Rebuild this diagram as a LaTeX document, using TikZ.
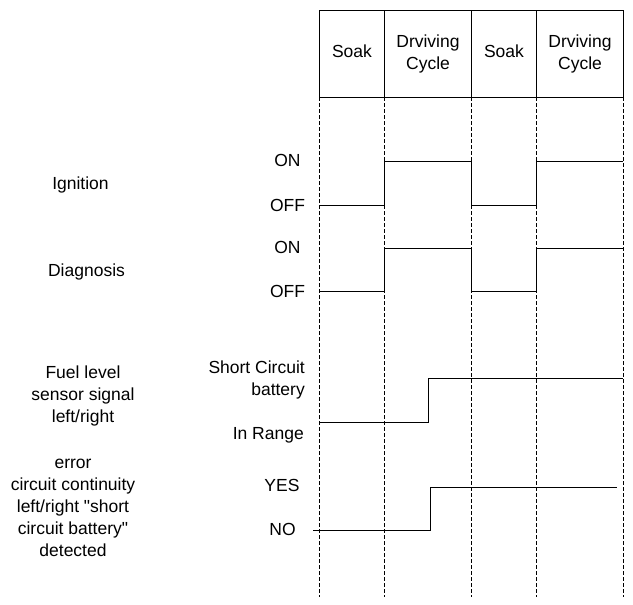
\documentclass[tikz,border=0pt]{standalone}
\usepackage{fontspec}
\setmainfont{Liberation Sans}[Ligatures=TeXOff]
\begin{document}
\begin{tikzpicture}[x=1pt, y=-1pt,
  caption/.style={inner sep=0pt, align=center, anchor=base,
    font=\fontsize{17.5}{22}\selectfont},
  level/.style={caption},
  column/.style={dash pattern=on 4pt off 2pt, line width=0.8pt},
  signal/.style={line width=1pt}]%
\useasboundingbox (0,0) rectangle (633,605);%
% phase header
\draw [line width=1pt] (319,10) rectangle (623,97);%
\foreach \x in {384,471,536} {\draw [line width=1pt] (\x,10) -- (\x,97);}%
\node [caption] (soakA) at (352,57) {Soak};%
\node [caption] (driveA) at (428,70) {Drviving\\Cycle};%
\node [caption] (soakB) at (504,57) {Soak};%
\node [caption] (driveB) at (580,70) {Drviving\\Cycle};%
% time grid
\foreach \x in {319,384,471,536,623} {\draw [column] (\x,97) -- (\x,597);}%
% signal names (base = last line)
\node [caption] (ignition) at (80.5,189) {Ignition};%
\node [caption] (diagnosis) at (86.5,276) {Diagnosis};%
\node [caption] (fuel) at (83,422) {Fuel level\\sensor signal\\left/right};%
\node [caption] (error) at (73,556) {error\\circuit continuity\\left/right "short\\circuit battery"\\detected};%
% signal levels
\node [level] (ignOn) at (287.5,166) {ON};%
\node [level] (ignOff) at (287.5,211) {OFF};%
\node [level] (diaOn) at (287.5,253) {ON};%
\node [level] (diaOff) at (287.5,297) {OFF};%
\node [level, align=right, anchor=base east] (fuelShort) at (305,395) {Short Circuit\\battery};%
\node [level, anchor=base east] (fuelRange) at (304,439) {In Range};%
\node [level] (errYes) at (282,491.5) {YES};%
\node [level] (errNo) at (282.5,535) {NO};%
% waveforms
\draw [signal] (319,205) -- (384,205) -- (384,161) -- (471,161) -- (471,205)
  -- (536,205) -- (536,161) -- (623,161);%
\draw [signal] (319,291) -- (384,291) -- (384,248) -- (471,248) -- (471,291)
  -- (536,291) -- (536,248) -- (623,248);%
\draw [signal] (319,422) -- (428,422) -- (428,378) -- (623,378);%
\draw [signal] (313,530) -- (430,530) -- (430,487) -- (617,487);%
\end{tikzpicture}
\end{document}
